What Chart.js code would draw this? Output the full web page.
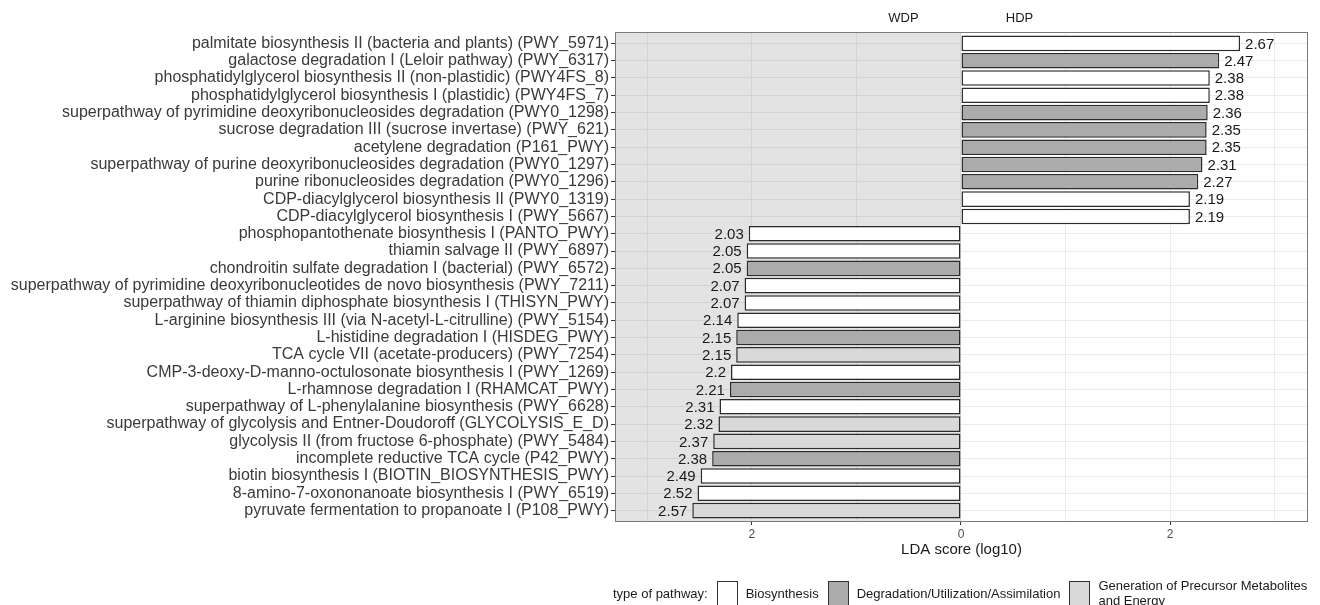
<!DOCTYPE html>
<html>
<head>
<meta charset="utf-8">
<title>LDA score by pathway</title>
<script src="https://cdn.jsdelivr.net/npm/chart.js@4.4.1/dist/chart.umd.min.js"></script>
<style>
  html, body { margin: 0; padding: 0; background: #fff; }
  #wrap { position: relative; width: 1320px; height: 605px; font-family: "Liberation Sans", Arial, sans-serif; }
  #chart { display: block; }
  #legend { position: absolute; left: 613px; top: 578px; display: flex; align-items: center; font-size: 13px; color: #1a1a1a; }
  #legend .key { width: 19px; height: 23px; border: 1.5px solid #333; margin: 0 8px 0 9px; }
  #legend .lbl { line-height: 15px; }
</style>
</head>
<body>
<div id="wrap">
  <canvas id="chart" width="1320" height="605"></canvas>
  <div id="legend"></div>
</div>
<script>
'use strict';

// ============================================================
// DATA
// ============================================================
const pathwayLabels = [
  'palmitate biosynthesis II (bacteria and plants) (PWY_5971)',
  'galactose degradation I (Leloir pathway) (PWY_6317)',
  'phosphatidylglycerol biosynthesis II (non-plastidic) (PWY4FS_8)',
  'phosphatidylglycerol biosynthesis I (plastidic) (PWY4FS_7)',
  'superpathway of pyrimidine deoxyribonucleosides degradation (PWY0_1298)',
  'sucrose degradation III (sucrose invertase) (PWY_621)',
  'acetylene degradation (P161_PWY)',
  'superpathway of purine deoxyribonucleosides degradation (PWY0_1297)',
  'purine ribonucleosides degradation (PWY0_1296)',
  'CDP-diacylglycerol biosynthesis II (PWY0_1319)',
  'CDP-diacylglycerol biosynthesis I (PWY_5667)',
  'phosphopantothenate biosynthesis I (PANTO_PWY)',
  'thiamin salvage II (PWY_6897)',
  'chondroitin sulfate degradation I (bacterial) (PWY_6572)',
  'superpathway of pyrimidine deoxyribonucleotides de novo biosynthesis (PWY_7211)',
  'superpathway of thiamin diphosphate biosynthesis I (THISYN_PWY)',
  'L-arginine biosynthesis III (via N-acetyl-L-citrulline) (PWY_5154)',
  'L-histidine degradation I (HISDEG_PWY)',
  'TCA cycle VII (acetate-producers) (PWY_7254)',
  'CMP-3-deoxy-D-manno-octulosonate biosynthesis I (PWY_1269)',
  'L-rhamnose degradation I (RHAMCAT_PWY)',
  'superpathway of L-phenylalanine biosynthesis (PWY_6628)',
  'superpathway of glycolysis and Entner-Doudoroff (GLYCOLYSIS_E_D)',
  'glycolysis II (from fructose 6-phosphate) (PWY_5484)',
  'incomplete reductive TCA cycle (P42_PWY)',
  'biotin biosynthesis I (BIOTIN_BIOSYNTHESIS_PWY)',
  '8-amino-7-oxononanoate biosynthesis I (PWY_6519)',
  'pyruvate fermentation to propanoate I (P108_PWY)'
];

// positive = HDP, negative = WDP
const ldaScores = [
  2.67, 2.47, 2.38, 2.38, 2.36, 2.35, 2.35, 2.31, 2.27, 2.19, 2.19,
  -2.03, -2.05, -2.05, -2.07, -2.07, -2.14, -2.15, -2.15, -2.2, -2.21,
  -2.31, -2.32, -2.37, -2.38, -2.49, -2.52, -2.57
];

// 0 = Biosynthesis, 1 = Degradation, 2 = Generation of precursors
const pathwayType = [
  0, 1, 0, 0, 1, 1, 1, 1, 1, 0, 0,
  0, 0, 1, 0, 0, 0, 1, 2, 0, 1,
  0, 2, 2, 1, 0, 0, 2
];

const typeNames  = ['Biosynthesis', 'Degradation/Utilization/Assimilation', 'Generation of Precursor Metabolites\nand Energy'];
const typeColors = ['#FFFFFF', '#ABABAB', '#D9D9D9'];

const xTickValues = [-2, 0, 2];
const groupNames  = ['WDP', 'HDP'];

// ============================================================
// PLUGINS
// ============================================================
const panelPlugin = {
  id: 'panel',
  beforeDatasetsDraw(chart) {
    const { ctx, chartArea: a, scales: { x } } = chart;
    const x0 = x.getPixelForValue(0);
    ctx.save();
    ctx.fillStyle = 'rgba(128,128,128,0.22)';
    ctx.fillRect(a.left, a.top, x0 - a.left, a.bottom - a.top);
    ctx.restore();
  },
  afterDatasetsDraw(chart) {
    const { ctx, chartArea: a } = chart;
    const meta = chart.getDatasetMeta(0);
    ctx.save();
    // value labels
    ctx.font = '15px "Liberation Sans", Arial, sans-serif';
    ctx.fillStyle = '#1a1a1a';
    ctx.textBaseline = 'middle';
    meta.data.forEach((bar, i) => {
      const v = ldaScores[i];
      ctx.textAlign = v >= 0 ? 'left' : 'right';
      ctx.fillText(String(Math.abs(v)), bar.x + (v >= 0 ? 5 : -5), bar.y + 1);
    });
    // panel border
    ctx.strokeStyle = '#7a7a7a';
    ctx.lineWidth = 1;
    ctx.strokeRect(Math.round(a.left) - 0.5, Math.round(a.top) - 0.5, Math.round(a.right - a.left) + 1, Math.round(a.bottom - a.top) + 1);
    ctx.restore();
  },
  afterDraw(chart) {
    const { ctx, scales: { x } } = chart;
    ctx.save();
    ctx.font = '13px "Liberation Sans", Arial, sans-serif';
    ctx.fillStyle = '#1a1a1a';
    ctx.textAlign = 'center';
    ctx.textBaseline = 'middle';
    ctx.fillText(groupNames[0], x.getPixelForValue(-0.55), 18);
    ctx.fillText(groupNames[1], x.getPixelForValue(0.56), 18);
    ctx.restore();
  }
};

// ============================================================
// CHART
// ============================================================
Chart.defaults.font.family = '"Liberation Sans", Arial, sans-serif';

const yMin = -0.6;
const yMax = pathwayLabels.length - 0.4;

new Chart(document.getElementById('chart'), {
  type: 'bar',
  data: {
    labels: pathwayLabels,
    datasets: [{
      data: ldaScores.map((v, i) => ({ x: v, y: i })),
      backgroundColor: pathwayType.map(t => typeColors[t]),
      borderColor: '#2b2b2b',
      borderWidth: 1.5,
      borderSkipped: false,
      barPercentage: 0.9,
      categoryPercentage: 1.0
    }]
  },
  options: {
    indexAxis: 'y',
    responsive: false,
    animation: false,
    devicePixelRatio: 1,
    layout: { padding: { top: 33, right: 13, bottom: 46, left: 0 } },
    plugins: { legend: { display: false }, tooltip: { enabled: false } },
    scales: {
      x: {
        type: 'linear',
        min: -3.30,
        max: 3.31,
        afterFit: s => { s.height = 38; },
        border: { display: false },
        grid: {
          color: '#EBEBEB',
          lineWidth: 1,
          tickLength: 4,
          tickColor: c => (c.tick && xTickValues.includes(c.tick.value)) ? '#333333' : 'rgba(0,0,0,0)'
        },
        ticks: {
          stepSize: 1,
          includeBounds: false,
          padding: 2,
          color: '#4D4D4D',
          font: { size: 12 },
          callback: v => xTickValues.includes(v) ? String(Math.abs(v)) : ''
        },
        title: {
          display: true,
          text: 'LDA score (log10)',
          color: '#1a1a1a',
          font: { size: 15 },
          padding: { top: 0, bottom: 0 }
        }
      },
      y: {
        type: 'linear',
        reverse: true,
        offset: false,
        min: yMin,
        max: yMax,
        afterBuildTicks: s => {
          s.ticks = pathwayLabels.map((_, i) => ({ value: i }));
          s.min = yMin;
          s.max = yMax;
        },
        afterFit: s => { s.width = 616; },
        border: { display: false },
        grid: { offset: false, color: '#EBEBEB', lineWidth: 1, tickLength: 5, tickColor: '#333333' },
        ticks: {
          autoSkip: false,
          padding: 2,
          color: '#3a3a3a',
          font: { size: 16 },
          callback: v => pathwayLabels[v] ?? ''
        }
      }
    }
  },
  plugins: [panelPlugin]
});

// ============================================================
// LEGEND
// ============================================================
(function buildLegend() {
  const legend = document.getElementById('legend');
  const title = document.createElement('span');
  title.textContent = 'type of pathway:';
  legend.appendChild(title);
  typeNames.forEach((name, i) => {
    const key = document.createElement('span');
    key.className = 'key';
    key.style.background = typeColors[i];
    const lbl = document.createElement('span');
    lbl.className = 'lbl';
    lbl.innerHTML = name.replace('\n', '<br>');
    legend.appendChild(key);
    legend.appendChild(lbl);
  });
})();
</script>
</body>
</html>
